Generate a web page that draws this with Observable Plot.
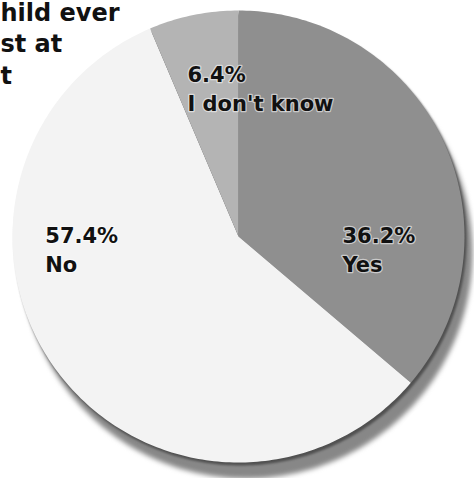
<!DOCTYPE html>
<html>
<head>
<meta charset="utf-8">
<script src="https://cdn.jsdelivr.net/npm/d3@7"></script>
<script src="https://cdn.jsdelivr.net/npm/@observablehq/plot@0.6"></script>
<style>
  html, body { margin: 0; padding: 0; background: #ffffff; }
  #chart { width: 474px; height: 478px; overflow: hidden; }
</style>
</head>
<body>
<div id="chart"></div>
<script>
// ---- data ----
const categories = ["Yes", "No", "I don't know"];
const shares = [36.2, 57.4, 6.4];
const percentLabels = ["36.2%", "57.4%", "6.4%"];
// title as visible in the (cropped) reference
const titleLines = ["hild ever", "st at", "t"];

// ---- layout & style (not data) ----
const W = 474, H = 478;
const cx = 238, cy = 236, R = 226;
const sliceColors = ["#8f8f8f", "#f3f3f3", "#b4b4b4"];
// label anchors in unit-circle coordinates (left edge, first baseline)
const labelAt = {
  "Yes": [0.46, -0.03],
  "No": [-0.855, -0.03],
  "I don't know": [-0.226, 0.684]
};
const titleBaselines = [20, 51, 83];

// ---- geometry from the values ----
const arcs = d3.pie().sort(null).value((d, i) => shares[i])(categories);
function ringPoints(name, a0, a1) {
  const pts = [{name, ux: 0, uy: 0}];
  const steps = Math.max(2, Math.ceil((a1 - a0) / (Math.PI / 180)));
  for (let k = 0; k <= steps; k++) {
    const a = a0 + (a1 - a0) * k / steps;
    pts.push({name, ux: Math.sin(a), uy: Math.cos(a)});
  }
  pts.push({name, ux: 0, uy: 0});
  return pts;
}
const slicePts = arcs.flatMap(a => ringPoints(a.data, a.startAngle, a.endAngle));
const shadowPts = ringPoints("shadow", 0, 2 * Math.PI);
const labels = arcs.map((a, i) => ({
  name: a.data, pct: percentLabels[i], ux: labelAt[a.data][0], uy: labelAt[a.data][1]
}));

const font = "'DejaVu Sans', sans-serif";

const titleMarks = titleLines.map((t, i) =>
  Plot.text([t], {
    frameAnchor: "top-left", text: d => d, textAnchor: "start", lineAnchor: "bottom",
    dx: 0, dy: titleBaselines[i],
    fontSize: 24, fontWeight: "bold", fontFamily: font, fill: "#111"
  })
);

const labelStyle = {
  textAnchor: "start", lineAnchor: "bottom",
  fontSize: 21, fontWeight: "bold", fontFamily: font, fill: "#111",
  stroke: "white", strokeOpacity: 0.55, strokeWidth: 2.5, paintOrder: "stroke"
};

const chart = Plot.plot({
  width: W, height: H, margin: 0,
  style: {background: "#ffffff", fontFamily: font},
  x: {domain: [-1, 1], range: [cx - R, cx + R], axis: null},
  y: {domain: [-1, 1], range: [cy + R, cy - R], axis: null},
  color: {domain: categories, range: sliceColors},
  marks: [
    Plot.line(shadowPts, {x: "ux", y: "uy", fill: "#7a7a7a", stroke: "none", dx: 8, dy: 16, fillOpacity: 0.9, imageFilter: "blur(2.5px)"}),
    Plot.line(shadowPts, {x: "ux", y: "uy", fill: "#4a4a4a", stroke: "none", dx: 2, dy: 3, fillOpacity: 0.9, imageFilter: "blur(1px)"}),
    Plot.line(slicePts, {x: "ux", y: "uy", z: "name", fill: "name", stroke: "none"}),
    Plot.text(labels, {x: "ux", y: "uy", text: "pct", ...labelStyle}),
    Plot.text(labels, {x: "ux", y: "uy", text: "name", dy: 29, ...labelStyle}),
    ...titleMarks
  ]
});
document.getElementById("chart").appendChild(chart);
</script>
</body>
</html>
